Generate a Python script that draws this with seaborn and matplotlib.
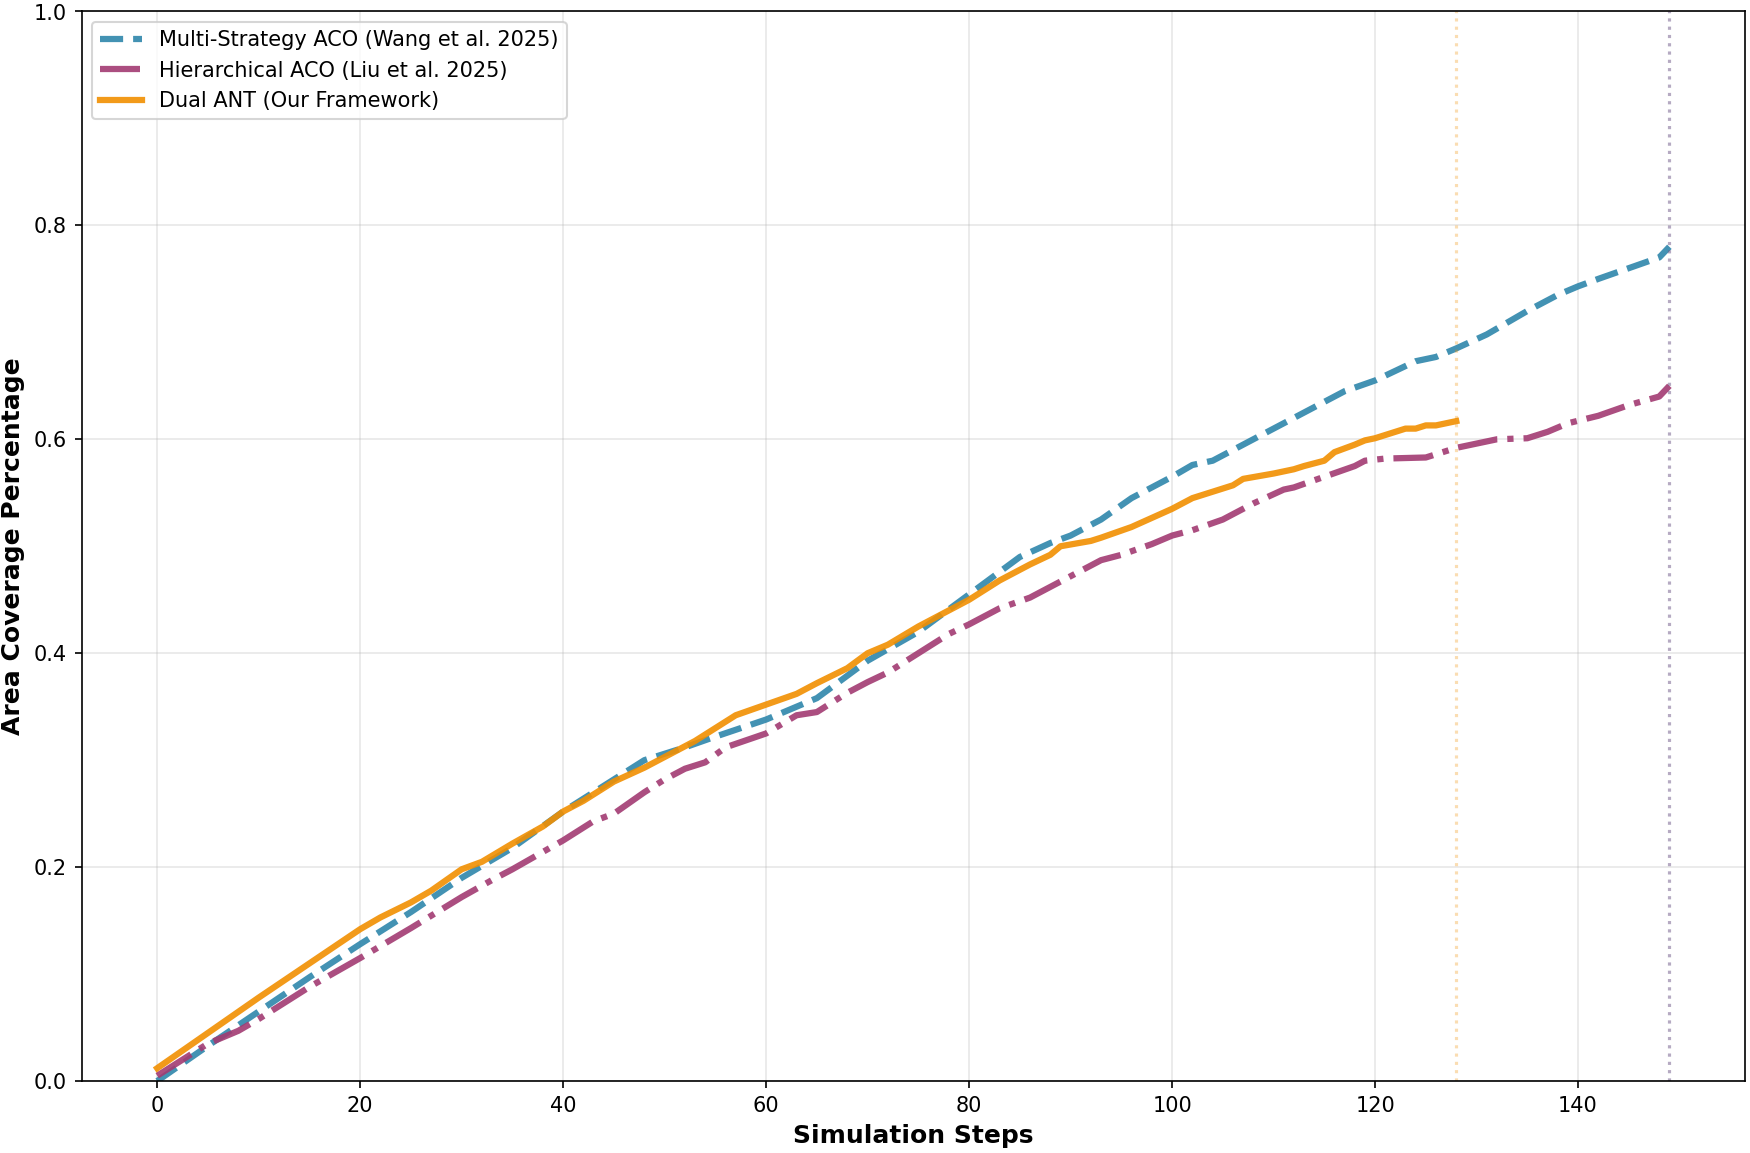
import numpy as np
import pandas as pd
import matplotlib
matplotlib.use('Agg')
import matplotlib.pyplot as plt
import seaborn as sns

# Values (steps, coverage fraction)
multi_steps = [0, 5, 10, 15, 20, 25, 30, 35, 40, 45, 48, 52, 55, 60, 65, 70, 75, 80,
               85, 88, 90, 93, 96, 100, 102, 104, 105, 110, 115, 117, 120, 124, 126,
               128, 131, 135, 138, 140, 142, 145, 148, 149]
multi_cov = [0.000, 0.033, 0.065, 0.097, 0.128, 0.158, 0.190, 0.218, 0.252, 0.282,
             0.300, 0.312, 0.322, 0.338, 0.358, 0.393, 0.420, 0.455, 0.490, 0.503,
             0.510, 0.525, 0.545, 0.565, 0.576, 0.580, 0.585, 0.610, 0.635, 0.645,
             0.655, 0.673, 0.677, 0.685, 0.698, 0.720, 0.735, 0.743, 0.750, 0.760,
             0.770, 0.780]

hier_steps = [0, 5, 8, 10, 15, 20, 25, 30, 33, 35, 40, 43, 45, 48, 50, 52, 54, 56, 60,
              63, 65, 68, 70, 72, 75, 78, 80, 83, 86, 88, 90, 93, 95, 98, 100, 102,
              105, 108, 111, 112, 115, 118, 119, 121, 125, 126, 128, 132, 135, 137,
              139, 142, 145, 148, 149]
hier_cov = [0.005, 0.035, 0.047, 0.058, 0.088, 0.115, 0.143, 0.172, 0.188, 0.198,
            0.225, 0.243, 0.250, 0.270, 0.282, 0.292, 0.298, 0.312, 0.325, 0.342,
            0.345, 0.363, 0.373, 0.382, 0.400, 0.418, 0.427, 0.442, 0.452, 0.462,
            0.472, 0.487, 0.492, 0.502, 0.510, 0.515, 0.525, 0.540, 0.553, 0.555,
            0.565, 0.575, 0.580, 0.582, 0.583, 0.586, 0.592, 0.600, 0.601, 0.607,
            0.615, 0.622, 0.632, 0.640, 0.650]

dual_steps = [0, 10, 20, 22, 25, 27, 30, 32, 35, 38, 40, 42, 45, 48, 50, 53, 55, 57,
              60, 63, 65, 68, 70, 72, 75, 78, 80, 83, 86, 88, 89, 92, 93, 96, 100,
              102, 106, 107, 110, 112, 113, 115, 116, 118, 119, 120, 123, 124, 125,
              126, 128]
dual_cov = [0.012, 0.078, 0.142, 0.153, 0.167, 0.178, 0.198, 0.205, 0.222, 0.238,
            0.252, 0.262, 0.280, 0.293, 0.303, 0.318, 0.330, 0.342, 0.352, 0.362,
            0.372, 0.386, 0.400, 0.408, 0.425, 0.440, 0.450, 0.468, 0.483, 0.492,
            0.500, 0.505, 0.508, 0.518, 0.535, 0.545, 0.557, 0.563, 0.568, 0.572,
            0.575, 0.580, 0.588, 0.595, 0.599, 0.601, 0.610, 0.610, 0.613, 0.613,
            0.617]

labels = ['Multi-Strategy ACO (Wang et al. 2025)',
          'Hierarchical ACO (Liu et al. 2025)',
          'Dual ANT (Our Framework)']
colors = ['#2E86AB', '#A23B72', '#F18F01']

plt.rcParams['font.family'] = ['DejaVu Sans']

fig, ax = plt.subplots(figsize=(11.673, 7.687), dpi=150)

sns.lineplot(x=multi_steps, y=multi_cov, ax=ax, color=colors[0], linestyle='--',
             linewidth=3, alpha=0.9, label=labels[0])
sns.lineplot(x=hier_steps, y=hier_cov, ax=ax, color=colors[1], linestyle='-.',
             linewidth=3, alpha=0.9, label=labels[1])
sns.lineplot(x=dual_steps, y=dual_cov, ax=ax, color=colors[2], linestyle='-',
             linewidth=3, alpha=0.9, label=labels[2])

# end-of-run markers
ax.axvline(multi_steps[-1], color=colors[0], linestyle=':', alpha=0.3, linewidth=1.5)
ax.axvline(hier_steps[-1], color=colors[1], linestyle=':', alpha=0.3, linewidth=1.5)
ax.axvline(dual_steps[-1], color=colors[2], linestyle=':', alpha=0.3, linewidth=1.5)

ax.set_ylim(0, 1.0)
ax.set_xlabel('Simulation Steps', fontsize=12, fontweight='bold')
ax.set_ylabel('Area Coverage Percentage', fontsize=12, fontweight='bold')
ax.grid(True, alpha=0.3)
ax.legend(loc='upper left', fontsize=10)

plt.subplots_adjust(left=0.0466, right=0.9966, top=0.990, bottom=0.0624)
plt.savefig('out.png', dpi=150)
plt.close()
